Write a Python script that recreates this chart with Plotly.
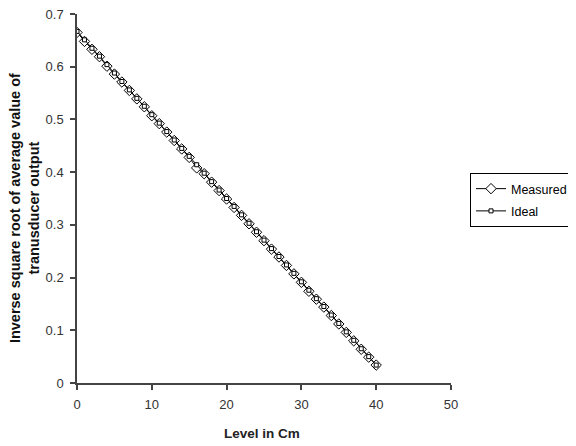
import plotly.graph_objects as go

level_cm = list(range(0, 41))
measured = [0.665, 0.648, 0.633, 0.619, 0.601, 0.586, 0.571, 0.555, 0.539, 0.524,
            0.507, 0.492, 0.476, 0.460, 0.444, 0.428, 0.408, 0.397, 0.381, 0.365,
            0.349, 0.333, 0.318, 0.302, 0.286, 0.270, 0.254, 0.239, 0.223, 0.207,
            0.191, 0.174, 0.159, 0.144, 0.128, 0.112, 0.096, 0.080, 0.064, 0.049,
            0.034]
ideal = [0.667, 0.651, 0.635, 0.620, 0.604, 0.588, 0.572, 0.556, 0.540, 0.525,
         0.509, 0.493, 0.477, 0.461, 0.445, 0.430, 0.414, 0.398, 0.382, 0.366,
         0.350, 0.335, 0.319, 0.303, 0.287, 0.271, 0.255, 0.240, 0.224, 0.208,
         0.192, 0.176, 0.160, 0.145, 0.129, 0.113, 0.097, 0.081, 0.065, 0.050,
         0.034]
x_ticks = [0, 10, 20, 30, 40, 50]
y_ticks = [0, 0.1, 0.2, 0.3, 0.4, 0.5, 0.6, 0.7]

fig = go.Figure()
fig.add_trace(go.Scatter(
    x=level_cm, y=measured, name="Measured", mode="lines+markers",
    legendgroup="m",
    line=dict(color="black", width=1),
    marker=dict(symbol="diamond", size=8, color="white",
                line=dict(color="black", width=1)),
))
fig.add_trace(go.Scatter(
    x=level_cm, y=ideal, name="Ideal", mode="lines+markers",
    legendgroup="i",
    line=dict(color="black", width=1),
    marker=dict(symbol="square", size=4, color="white",
                line=dict(color="black", width=1)),
))

axis_common = dict(showgrid=False, zeroline=False, showline=True,
                   linecolor="#444", linewidth=1.5, ticks="outside",
                   ticklen=5, tickcolor="#444", tickwidth=1.5,
                   automargin=False, ticklabelstandoff=4,
                   ticklabeloverflow="allow",
                   tickfont=dict(family="Liberation Sans, Arial", size=13, color="#333"))

fig.update_layout(
    width=576, height=438,
    margin=dict(l=69, r=133, t=6, b=63),
    paper_bgcolor="white", plot_bgcolor="white",
    font=dict(family="Liberation Sans, Arial", color="black"),
    xaxis=dict(range=[0, 50], tickvals=x_ticks, **axis_common),
    yaxis=dict(range=[0, 0.7], tickvals=y_ticks, **axis_common),
    legend=dict(xref="container", yref="container",
                x=462 / 576, y=1 - 165 / 438, xanchor="left", yanchor="top",
                bordercolor="black", borderwidth=1, bgcolor="white",
                font=dict(size=12.5, color="black"), itemwidth=30,
                traceorder="grouped", tracegroupgap=3),
    showlegend=True,
    annotations=[
        dict(text="<b>Level in Cm</b>", xref="paper", yref="paper",
             x=0.495, y=-0.138, xanchor="center", yanchor="middle",
             showarrow=False, font=dict(size=13.5, color="#222")),
        dict(text="<b>Inverse square root of average value of<br>tranusducer output</b>",
             xref="paper", yref="paper", x=-0.1417, y=0.474,
             xanchor="center", yanchor="middle", textangle=-90,
             showarrow=False, font=dict(size=14.5, color="#111")),
    ],
)

fig.write_html("out.html")
